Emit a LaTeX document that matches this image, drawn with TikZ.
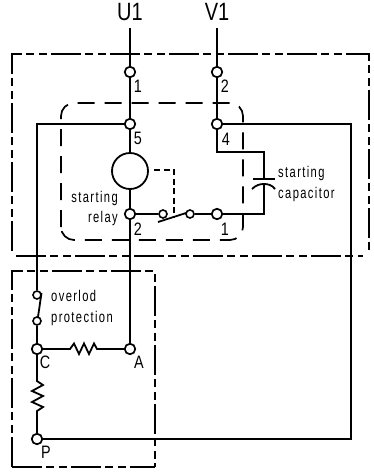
\documentclass[tikz,border=0pt]{standalone}
\usepackage{fontspec}
\setmainfont[FakeStretch=0.8]{Liberation Sans}
\newfontfamily\smallfnt[FakeStretch=0.72,LetterSpace=9]{Liberation Sans}
\tikzset{
  wire/.style={line width=1.8pt},
  thinwire/.style={line width=1.5pt},
  term/.style={circle,draw,line width=1.7pt,inner sep=0pt,minimum size=10.5pt},
  smallterm/.style={circle,draw,line width=1.6pt,inner sep=0pt,minimum size=8pt},
  dd/.style={line width=1.8pt,dash pattern=on 30pt off 4pt on 8pt off 5pt on 8pt off 4pt},
  dsh/.style={line width=1.7pt,dash pattern=on 17pt off 10pt},
  dshs/.style={line width=1.5pt,dash pattern=on 6pt off 3.5pt},
  big/.style={font=\fontsize{25}{25}\selectfont,inner sep=0pt},
  lab/.style={font=\fontsize{18}{18}\selectfont,inner sep=0pt},
  txt/.style={font=\smallfnt\fontsize{15.5}{16}\selectfont,inner sep=0pt},
}
\begin{document}
\begin{tikzpicture}[x=1pt,y=-1pt]
\useasboundingbox (0,0) rectangle (374,472);
% boxes
\draw[dd] (12,251) -- (12,54) -- (369,54) -- (369,252);
\draw[dd] (16,256) -- (363,256);
\draw[dd] (12,467) -- (12,271) -- (155,271) -- (155,467);
\draw[dd] (12,467) -- (155,467);
\draw[dsh,rounded corners=13pt] (61,240) -- (61,103) -- (243,103) -- (243,240) -- cycle;
% terminals
\node[term] (t1) at (130,72) {};
\node[term] (t5) at (130,124) {};
\node[circle,draw,line width=1.8pt,inner sep=0pt,minimum size=36pt] (coil) at (130,171) {};
\node[term] (t2) at (130,214) {};
\node[smallterm] (s1) at (163,214) {};
\node[smallterm] (s2) at (190,214) {};
\node[term] (t1b) at (217,214) {};
\node[term] (v2) at (217,72) {};
\node[term] (v4) at (217,124) {};
\node[smallterm] (o1) at (37,295) {};
\node[smallterm] (o2) at (37,321) {};
\node[term] (C) at (37,349) {};
\node[term] (A) at (130,349) {};
\node[term] (P) at (37,439) {};
\coordinate (u) at (130,28);
\coordinate (v) at (217,28);
% wires
\draw[wire] (u) -- (t1);
\draw[wire] (t1) -- (t5);
\draw[wire] (t5) -- (coil);
\draw[wire] (coil) -- (t2);
\draw[wire] (t2) -- (A);
\draw[wire] (v) -- (v2);
\draw[wire] (v2) -- (v4);
\draw[thinwire] (t5) -| (o1);
\draw[thinwire] (v4) -| (351,439) -- (P);
\draw[wire] (o2) -- (C);
\coordinate (o1s) at (41.5,293); \coordinate (o2s) at (38,317);
\draw[wire] (o1s) -- (o2s);
% resistors
\coordinate (rh1) at (70,349); \coordinate (rh2) at (100,349);
\draw[wire] (C) -- (rh1) -- (74,343.5) -- (79,354) -- (84,343.5) -- (89,354) -- (94,343.5) -- (97,349) -- (rh2) -- (A);
\coordinate (rv1) at (37,381); \coordinate (rv2) at (37,411);
\draw[wire] (C) -- (rv1) -- (43,385) -- (32,391) -- (43,396) -- (32,402) -- (43,407) -- (rv2) -- (P);
% relay contact
\draw[wire] (t2) -- (s1);
\draw[wire] (s2) -- (t1b);
\coordinate (c1) at (158,222); \coordinate (c2) at (186,213);
\draw[wire] (c1) -- (c2);
\coordinate (d1) at (154,170); \coordinate (d2) at (174,170); \coordinate (d3) at (174,217);
\draw[dshs] (d1) -- (d2) -- (d3);
% capacitor
\coordinate (ct) at (264,152); \coordinate (cp) at (264,179);
\coordinate (cb) at (264,214); \coordinate (cq) at (264,184);
\draw[wire] (v4) |- (ct) -- (cp);
\draw[line width=2.2pt] (253,179) -- (275,179);
\draw[wire] (252,189) .. controls (256,185) and (260,184) .. (cq) .. controls (268,184) and (272,185) .. (275,189);
\draw[wire] (cq) -- (cb) -- (t1b);
% labels
\node[big] (lu) at (130,12) {U1};
\node[big] (lv) at (217,12) {V1};
\node[lab] (n1) at (138,86) {1};
\node[lab] (n5) at (138,138) {5};
\node[lab] (n2) at (138,229) {2};
\node[lab] (n3) at (225,86) {2};
\node[lab] (n4) at (226,139) {4};
\node[lab] (n6) at (225,229) {1};
\node[lab] (nc) at (45,362) {C};
\node[lab] (na) at (139,362) {A};
\node[lab] (np) at (46,452) {P};
\node[txt,anchor=base east] (a1) at (118,202) {starting};
\node[txt,anchor=base east] (a2) at (118,222) {relay};
\node[txt,anchor=base west] (a3) at (278,177) {starting};
\node[txt,anchor=base west] (a4) at (278,198) {capacitor};
\node[txt,anchor=base west] (a5) at (51,301) {overlod};
\node[txt,anchor=base west] (a6) at (51,322) {protection};
\end{tikzpicture}
\end{document}
